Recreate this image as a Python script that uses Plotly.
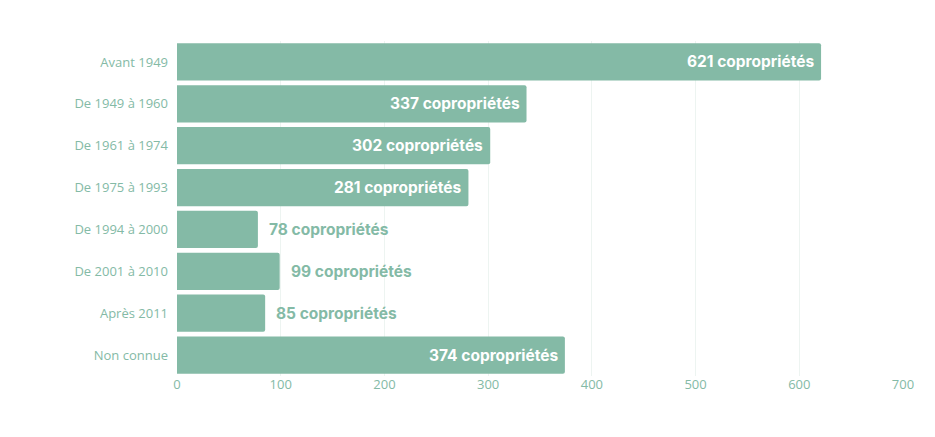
import plotly.graph_objects as go

categories = ["Avant 1949", "De 1949 à 1960", "De 1961 à 1974", "De 1975 à 1993",
              "De 1994 à 2000", "De 2001 à 2010", "Après 2011", "Non connue"]
values = [621, 337, 302, 281, 78, 99, 85, 374]
labels = [f"{v} copropriétés" for v in values]

GREEN = "#84BAA6"
INSIDE_MIN = 200  # labels fit inside bars longer than this

fig = go.Figure(go.Bar(
    x=values, y=categories, orientation="h",
    marker=dict(color=GREEN, cornerradius=2, line=dict(width=0)),
    hoverinfo="skip",
))

for cat, v, lab in zip(categories, values, labels):
    inside = v > INSIDE_MIN
    fig.add_annotation(
        x=v, y=cat, xref="x", yref="y", text=lab, showarrow=False,
        xanchor="right" if inside else "left",
        xshift=-5 if inside else 9,
        font=dict(family="Inter", size=15.5, weight="bold",
                  color="white" if inside else GREEN),
    )

fig.update_layout(
    width=935, height=437,
    margin=dict(l=169, r=40, t=33, b=69),
    paper_bgcolor="white", plot_bgcolor="white",
    bargap=0.11, showlegend=False,
    font=dict(family="Open Sans", color=GREEN, size=13),
)
fig.update_xaxes(range=[0, 700], dtick=100, showgrid=True, gridcolor="#EDF4F1",
                 zeroline=False, showline=False, ticks="", tickfont=dict(size=13, color=GREEN),
                 ticklabelstandoff=-1, automargin=False)
fig.update_yaxes(autorange="reversed", showgrid=False, ticks="",
                 ticklabelstandoff=8, tickfont=dict(size=13, color=GREEN),
                 automargin=False)

fig.write_html("out.html")
